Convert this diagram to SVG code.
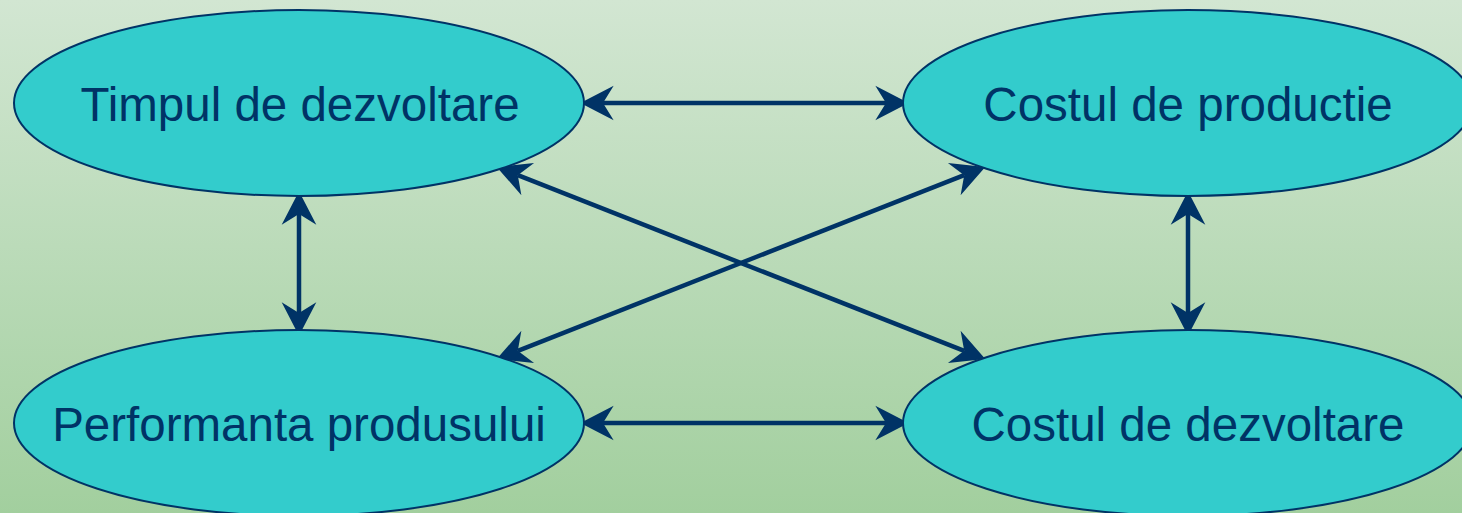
<svg xmlns="http://www.w3.org/2000/svg" width="1462" height="513" viewBox="0 0 1462 513">
<defs>
<linearGradient id="bg" x1="0" y1="0" x2="0" y2="1">
<stop offset="0" stop-color="#d2e6d2"/>
<stop offset="1" stop-color="#a2cf9e"/>
</linearGradient>
<marker id="ah" markerUnits="userSpaceOnUse" markerWidth="40" markerHeight="40" viewBox="-10 -15 30 30" refX="0" refY="0" orient="auto-start-reverse" overflow="visible">
<path d="M-8,-13 L17,0 L-8,13 L0,0 Z" fill="#003366"/>
</marker>
</defs>
<style>
.node ellipse{fill:#33cccc;stroke:#003366;stroke-width:2}
.node text{font-family:"Liberation Sans",Arial,sans-serif;font-size:47.5px;fill:#003366;text-anchor:middle}
.conn line{stroke:#003366;stroke-width:4.5;marker-start:url(#ah);marker-end:url(#ah)}
</style>
<rect width="1462" height="513" fill="url(#bg)"/>
<g class="conn" id="connectors">
<line x1="603" y1="103" x2="886" y2="103"/>
<line x1="299" y1="214" x2="299" y2="313"/>
<line x1="1188" y1="214" x2="1188" y2="313"/>
<line x1="517.8" y1="175.2" x2="964.2" y2="350.8"/>
<line x1="964.2" y1="175.2" x2="517.8" y2="350.8"/>
<line x1="603" y1="423" x2="886" y2="423"/>
</g>
<g class="node" id="timpul">
<ellipse cx="299" cy="103" rx="285" ry="93"/>
<text x="300" y="121">Timpul de dezvoltare</text>
</g>
<g class="node" id="costul-productie">
<ellipse cx="1188" cy="103" rx="285" ry="93"/>
<text x="1188" y="121">Costul de productie</text>
</g>
<g class="node" id="performanta">
<ellipse cx="299" cy="423" rx="285" ry="93"/>
<text x="299" y="441">Performanta produsului</text>
</g>
<g class="node" id="costul-dezvoltare">
<ellipse cx="1188" cy="423" rx="285" ry="93"/>
<text x="1188" y="441">Costul de dezvoltare</text>
</g>
</svg>
